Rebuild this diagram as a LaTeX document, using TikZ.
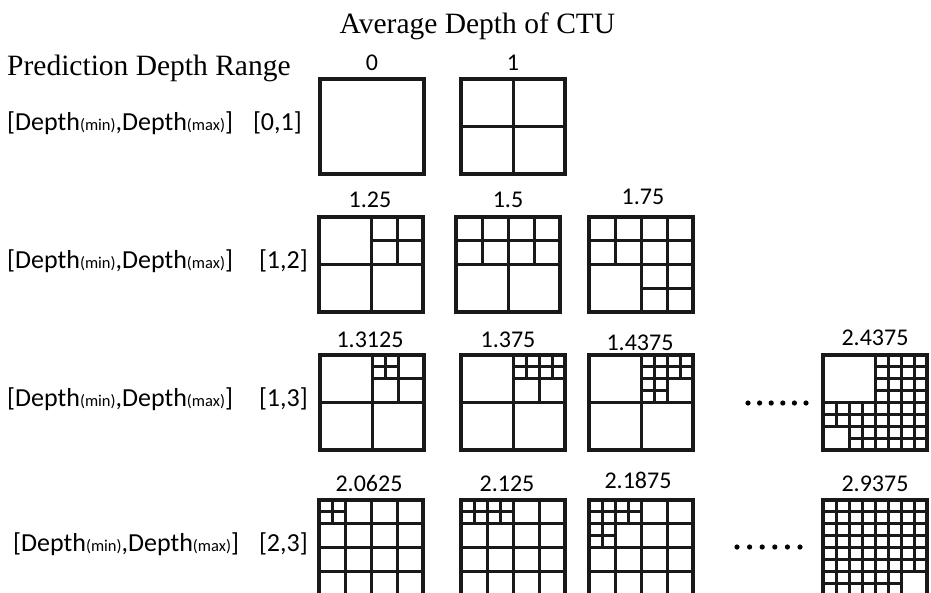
\documentclass[tikz,border=0pt]{standalone}
\usepackage{fontspec}
\newfontfamily\calfont{Carlito}
\newfontfamily\serfont{Liberation Serif}
\newcommand\sm[1]{{\fontsize{16.5}{18}\selectfont #1}}
\newcommand\ctuCross{\draw[innerline] (4,0)--(4,8) (0,4)--(8,4);}
\newcommand\ctuQ[2]{\draw[innerline] ({#1+2},#2)--({#1+2},{#2+4}) (#1,{#2+2})--({#1+4},{#2+2});}
\newcommand\ctuC[2]{\draw[innerline] ({#1+1},#2)--({#1+1},{#2+2}) (#1,{#2+1})--({#1+2},{#2+1});}
\newcommand\ctubox[4]{%
  \node[ctu] (#1) at (#2,#3) {};
  \begin{scope}[shift={(#1.north west)}, x=13pt, y=-11.875pt]#4\end{scope}}
\begin{document}
\begin{tikzpicture}[x=1pt,y=-1pt,
  ctu/.style={draw=black!90, line width=3.2pt, minimum width=104pt, minimum height=95pt,
    inner sep=0pt, outer sep=0pt, anchor=north west},
  innerline/.style={draw=black!90, line width=3pt},
  num/.style={font=\calfont\fontsize{24}{26}\selectfont, anchor=base, inner sep=0pt},
  lab/.style={font=\calfont\fontsize{26}{28}\selectfont, anchor=base west, inner sep=0pt},
  rng/.style={font=\calfont\fontsize{26}{28}\selectfont, anchor=base east, inner sep=0pt},
  hdr/.style={font=\serfont\fontsize{29.5}{32}\selectfont, inner sep=0pt}]
\useasboundingbox (0,0) rectangle (931,592);
\clip (0,0) rectangle (931,592);
\fill[white] (0,0) rectangle (931,592);

% headers
\node[hdr, anchor=base] (title) at (477.5,33) {Average Depth of CTU};
\node[hdr, anchor=base west] (pdr) at (7,75) {Prediction Depth Range};

% row labels
\node[lab] (r1) at (7,130) {[Depth\sm{(min)},Depth\sm{(max)}]};
\node[rng] (g1) at (302,130) {[0,1]};
\node[lab] (r2) at (7,268) {[Depth\sm{(min)},Depth\sm{(max)}]};
\node[rng] (g2) at (308,268) {[1,2]};
\node[lab] (r3) at (7,406) {[Depth\sm{(min)},Depth\sm{(max)}]};
\node[rng] (g3) at (308,406) {[1,3]};
\node[lab] (r4) at (13,551) {[Depth\sm{(min)},Depth\sm{(max)}]};
\node[rng] (g4) at (308,551) {[2,3]};

% row 1
\ctubox{b0}{320}{79}{}
\ctubox{b1}{461}{79}{\ctuCross}
\node[num] (n0) at (372,70) {0};
\node[num] (n1) at (513,70) {1};

% row 2
\ctubox{b125}{319}{217}{\ctuCross\ctuQ{4}{0}}
\ctubox{b15}{456}{217}{\ctuCross\ctuQ{0}{0}\ctuQ{4}{0}}
\ctubox{b175}{589}{217}{\ctuCross\ctuQ{0}{0}\ctuQ{4}{0}\ctuQ{4}{4}}
\node[num] (n125) at (370,207) {1.25};
\node[num] (n15) at (508,207) {1.5};
\node[num] (n175) at (643,204) {1.75};

% row 3
\ctubox{b13125}{320}{355}{\ctuCross\ctuQ{4}{0}\ctuC{4}{0}}
\ctubox{b1375}{461}{355}{\ctuCross\ctuQ{4}{0}\ctuC{4}{0}\ctuC{6}{0}}
\ctubox{b14375}{589}{355}{\ctuCross\ctuQ{4}{0}\ctuC{4}{0}\ctuC{6}{0}\ctuC{4}{2}}
\ctubox{b24375}{823}{355}{\ctuCross\ctuQ{4}{0}\ctuQ{0}{4}\ctuQ{4}{4}%
  \ctuC{4}{0}\ctuC{6}{0}\ctuC{4}{2}\ctuC{6}{2}%
  \ctuC{0}{4}\ctuC{2}{4}\ctuC{2}{6}%
  \ctuC{4}{4}\ctuC{6}{4}\ctuC{4}{6}\ctuC{6}{6}}
\node[num] (n13125) at (370,347) {1.3125};
\node[num] (n1375) at (508,347) {1.375};
\node[num] (n14375) at (640,350) {1.4375};
\node[num] (n24375) at (875,345) {2.4375};
\foreach \i in {0,...,5} \fill (748+\i*11.6,403) circle (2.6pt);

% row 4
\ctubox{b20625}{319}{500}{\ctuCross\ctuQ{0}{0}\ctuQ{4}{0}\ctuQ{0}{4}\ctuQ{4}{4}\ctuC{0}{0}}
\ctubox{b2125}{461}{500}{\ctuCross\ctuQ{0}{0}\ctuQ{4}{0}\ctuQ{0}{4}\ctuQ{4}{4}\ctuC{0}{0}\ctuC{2}{0}}
\ctubox{b21875}{589}{500}{\ctuCross\ctuQ{0}{0}\ctuQ{4}{0}\ctuQ{0}{4}\ctuQ{4}{4}\ctuC{0}{0}\ctuC{2}{0}\ctuC{0}{2}}
\ctubox{b29375}{823}{500}{\ctuCross\ctuQ{0}{0}\ctuQ{4}{0}\ctuQ{0}{4}\ctuQ{4}{4}%
  \foreach \cx/\cy in {0/0,2/0,4/0,6/0,0/2,2/2,4/2,6/2,0/4,2/4,4/4,6/4,0/6,2/6,4/6}{\ctuC{\cx}{\cy}}}
\node[num] (n20625) at (369,491) {2.0625};
\node[num] (n2125) at (507,491) {2.125};
\node[num] (n21875) at (638,488) {2.1875};
\node[num] (n29375) at (875,491) {2.9375};
\foreach \i in {0,...,5} \fill (737+\i*12.6,547) circle (2.6pt);
\end{tikzpicture}
\end{document}
